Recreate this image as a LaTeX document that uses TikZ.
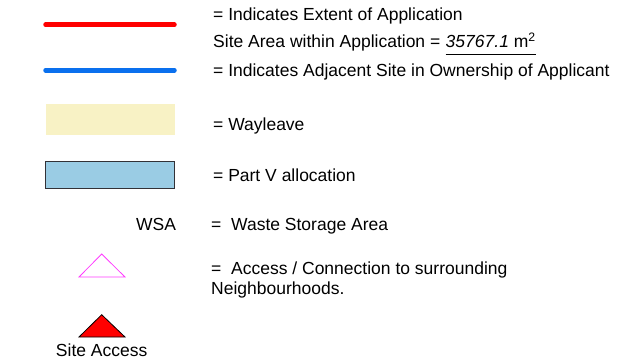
\documentclass[tikz,border=0pt]{standalone}
\usepackage{fontspec}
\setmainfont{Liberation Sans}
\definecolor{appred}{RGB}{255,0,0}
\definecolor{appblue}{RGB}{10,112,238}
\definecolor{wayfill}{RGB}{248,242,197}
\definecolor{partfill}{RGB}{154,204,228}
\definecolor{partedge}{RGB}{50,50,55}
\definecolor{pinkedge}{RGB}{255,60,255}
\tikzset{
  lbl/.style={anchor=base west, inner sep=0pt, font=\fontsize{17.5}{20}\selectfont},
  legline/.style={line width=4.5pt, line cap=round},
}
\begin{document}
\begin{tikzpicture}[x=1pt,y=-1pt]
\useasboundingbox (0,0) rectangle (638,360);
% lines
\draw[legline, appred] (45.5,24.7) -- (174.5,24.7);
\draw[legline, appblue] (45.5,70.3) -- (174.5,70.3);
% rectangles
\fill[wayfill] (46,104) rectangle (175,135);
\draw[fill=partfill, draw=partedge, line width=1pt] (45.7,161) rectangle (174.3,188);
% triangles
\draw[pinkedge, line width=0.8pt] (79,277) -- (101.7,254) -- (125,277) -- cycle;
\draw[fill=appred, draw=black, line width=0.8pt] (79,337) -- (101.7,314.7) -- (125,337) -- cycle;
% texts
\node[lbl] (t1) at (213,20) {= Indicates Extent of Application};
\node[lbl] (t2) at (213,47.5) {Site Area within Application =};
\node[lbl, anchor=base west, xshift=5pt] (area) at (t2.base east) {\textit{35767.1} m\textsuperscript{2}};
\draw[line width=0.9pt] ([yshift=-6.5pt]area.base west) -- ([yshift=-6.5pt]area.base east);
\node[lbl] (t3) at (213,76.5) {= Indicates Adjacent Site in Ownership of Applicant};
\node[lbl] (t4) at (213,130) {= Wayleave};
\node[lbl] (t5) at (213,181.5) {= Part V allocation};
\node[lbl] (wsa) at (136,230) {WSA};
\node[lbl] (t6) at (211,230) {=\ \ Waste Storage Area};
\node[lbl] (t7) at (211,274) {=\ \ Access / Connection to surrounding};
\node[lbl] (t8) at (211,294) {Neighbourhoods.};
\node[lbl, anchor=base] (sa) at (101.7,356) {Site Access};
\end{tikzpicture}
\end{document}
